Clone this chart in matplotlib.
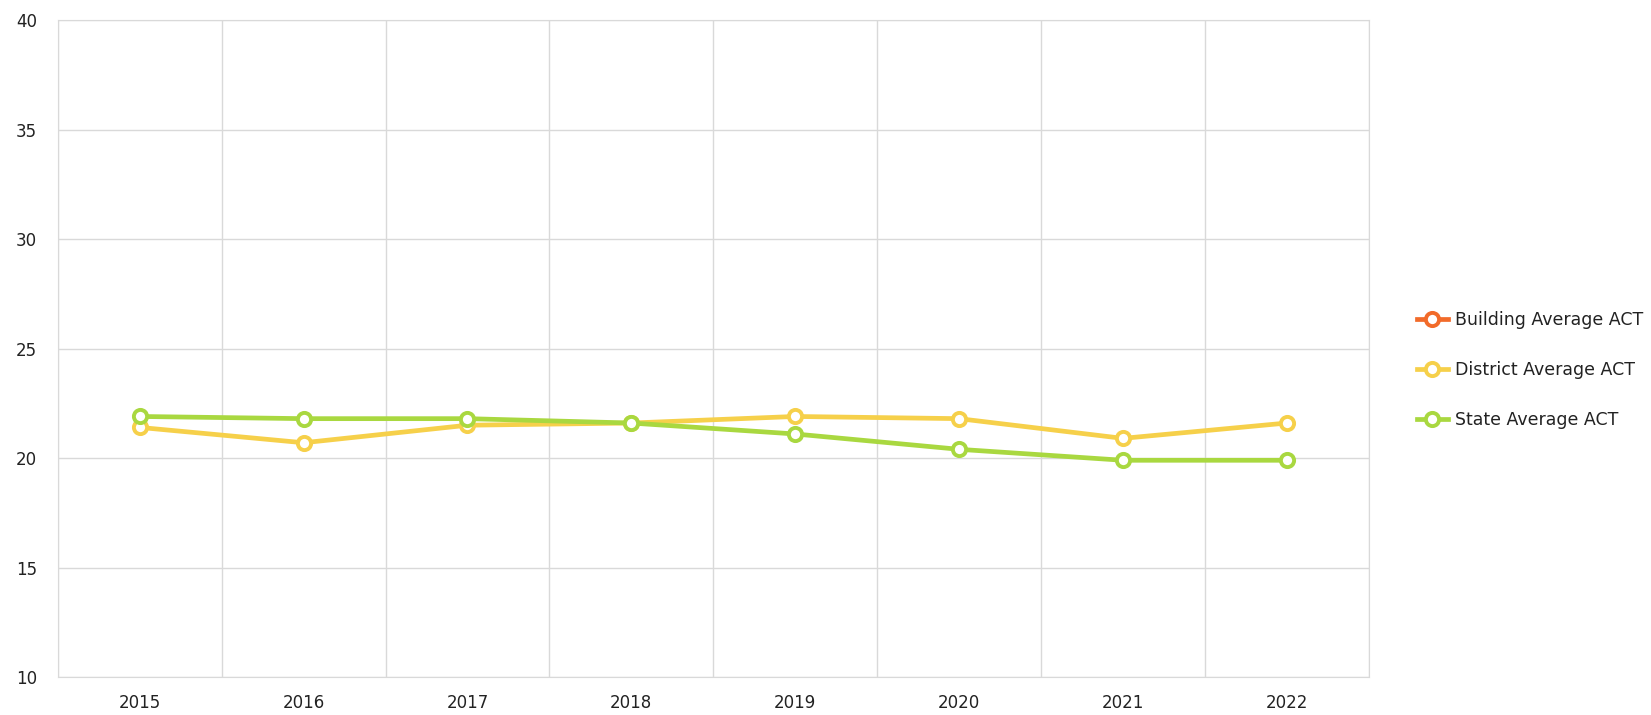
import numpy as np
import matplotlib
matplotlib.use("Agg")
import matplotlib.pyplot as plt
from matplotlib.ticker import MultipleLocator

years = ["2015", "2016", "2017", "2018", "2019", "2020", "2021", "2022"]
building_act = [np.nan] * 8
district_act = [21.4, 20.7, 21.5, 21.6, 21.9, 21.8, 20.9, 21.6]
state_act = [21.9, 21.8, 21.8, 21.6, 21.1, 20.4, 19.9, 19.9]

series = [
    ("Building Average ACT", building_act, "#f26b2a"),
    ("District Average ACT", district_act, "#f6d04a"),
    ("State Average ACT", state_act, "#a9d840"),
]

plt.rcParams['font.family'] = ['DejaVu Sans']

fig = plt.figure(figsize=(16.51, 7.15), dpi=100)
ax = fig.add_axes([0.035, 0.053, 0.794, 0.919])

x = np.arange(len(years))
for name, vals, col in series:
    ax.plot(x, vals, color=col, lw=3.4, marker="o", ms=9.5, mew=2.8,
            mfc="white", mec=col, label=name, zorder=3)

ax.set_xlim(-0.5, len(years) - 0.5)
ax.set_ylim(10, 40)
ax.yaxis.set_major_locator(MultipleLocator(5))
ax.set_xticks(x)
ax.set_xticklabels(years)
ax.set_xticks(np.arange(len(years) + 1) - 0.5, minor=True)

ax.grid(axis="y", which="major", color="#d9d9d9", lw=1)
ax.grid(axis="x", which="minor", color="#d9d9d9", lw=1)
ax.set_axisbelow(True)
ax.tick_params(which="both", length=0)
ax.tick_params(axis="y", pad=15, labelsize=12, labelcolor="#222222")
ax.tick_params(axis="x", pad=12, labelsize=12, labelcolor="#222222")
for s in ax.spines.values():
    s.set_color("#d9d9d9")

fig.legend(loc="center left", bbox_to_anchor=(0.8486, 0.4825), frameon=False,
           fontsize=12.5, labelspacing=1.84, handlelength=1.8, handletextpad=0.4,
           labelcolor="#222222")

fig.savefig("out.png", dpi=100, facecolor="white")
